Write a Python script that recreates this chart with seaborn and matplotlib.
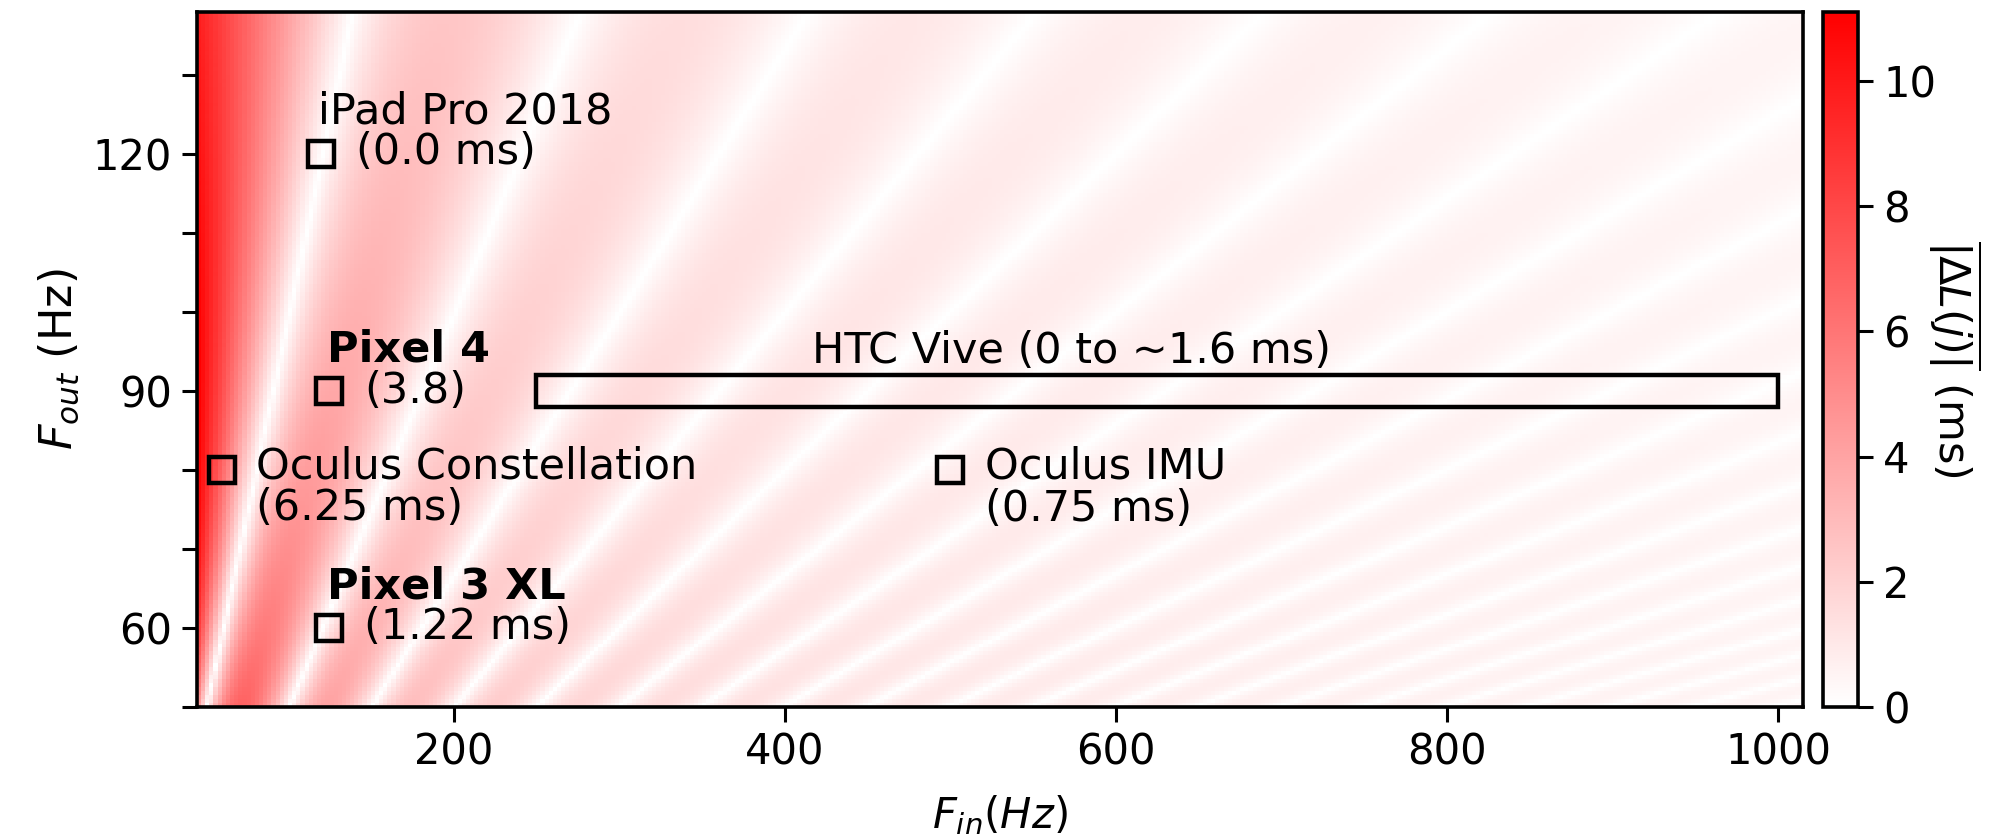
import numpy as np
import pandas as pd
import matplotlib
matplotlib.use("Agg")
import matplotlib.pyplot as plt
from matplotlib.patches import Rectangle
import seaborn as sns

# ---------------- data ----------------
# sampling grids (Hz)
f_in_hz = np.arange(45.0, 1015.0, 2.5)     # input (sensor) rate
f_out_hz = np.arange(50.0, 138.0, 0.5)     # output (display) rate
window_s = 1.0                              # averaging window (one second of output frames)

# device annotations
dev_names = ["iPad Pro 2018", "Pixel 4", "Oculus Constellation", "Oculus IMU", "Pixel 3 XL"]
dev_f_in = [120, 125, 60, 500, 125]
dev_f_out = [120, 90, 80, 80, 60]
dev_values = ["(0.0 ms)", "(3.8)", "(6.25 ms)", "(0.75 ms)", "(1.22 ms)"]
htc_f_in_range = [250, 1000]
htc_f_out = 90
htc_label = "HTC Vive (0 to ~1.6 ms)"

# mean |ΔL(j)|: latency L(j) = (j/F_out) mod (1/F_in), averaged over frames
fi2 = np.round(f_in_hz * 2).astype(np.int64)
fo2 = np.round(f_out_hz * 2).astype(np.int64)
rows = []
for fo_hz, fo in zip(f_out_hz, fo2):
    j = np.arange(int(fo_hz * window_s) + 1, dtype=np.int64)
    phase = (j[None, :] * fi2[:, None]) % fo          # integer exact
    lat_ms = phase / fo / (fi2[:, None] / 2.0) * 1000.0
    rows.append(np.abs(np.diff(lat_ms, axis=1)).mean(axis=1))
grid = np.array(rows)  # shape (n_out, n_in)
df = pd.DataFrame(grid[::-1], index=f_out_hz[::-1], columns=f_in_hz)

# ---------------- style ----------------
sns.set_theme(style="ticks", rc={
    "axes.edgecolor": "black", "axes.linewidth": 1.3,
    "xtick.color": "black", "ytick.color": "black",
    "text.color": "black", "axes.labelcolor": "black",
    "xtick.major.size": 5.5, "ytick.major.size": 5.5,
    "xtick.major.width": 1.1, "ytick.major.width": 1.1,
    "xtick.labelsize": 15, "ytick.labelsize": 15,
})
plt.rcParams["font.family"] = ["DejaVu Sans"]

cmap = sns.blend_palette(["#ffffff", "#ff0000"], as_cmap=True)

fig = plt.figure(figsize=(9.965, 4.2), dpi=200)
pos = [0.0988, 0.1587, 0.8059, 0.8274]
ax = fig.add_axes(pos)
cax = fig.add_axes([0.9147, 0.1587, 0.0176, 0.8274])

sns.heatmap(df, ax=ax, cmap=cmap, vmin=0, vmax=float(grid.max()),
            cbar_ax=cax, xticklabels=False, yticklabels=False,
            rasterized=True)
ax.set_xlabel("")
ax.set_ylabel("")
ax.tick_params(left=False, bottom=False)
for s in ax.spines.values():
    s.set_visible(False)

# overlay numeric axes aligned with the heatmap cells
ax2 = fig.add_axes(pos)
ax2.patch.set_alpha(0)
ax2.set_xlim(f_in_hz[0], f_in_hz[-1] + 2.5)
ax2.set_ylim(f_out_hz[0], f_out_hz[-1] + 0.5)
ax2.set_xticks([200, 400, 600, 800, 1000])
ax2.set_yticks(np.arange(50, 131, 10))
ax2.set_yticklabels([str(v) if v in (60, 90, 120) else "" for v in np.arange(50, 131, 10)])
for s in ax2.spines.values():
    s.set_visible(True)
    s.set_linewidth(1.3)
ax2.set_xlabel(r"$F_{in} (Hz)$", fontsize=15, labelpad=7)
ax2.set_ylabel(r"$F_{out}$ (Hz)", fontsize=16)

fs = 15.5
# markers
ax2.plot(dev_f_in, dev_f_out, "s", ms=9.5, mfc="none", mec="black", mew=1.6)
ax2.add_patch(Rectangle((htc_f_in_range[0], htc_f_out - 2),
                        htc_f_in_range[1] - htc_f_in_range[0], 4,
                        fill=False, lw=1.6, ec="black"))

# texts
ax2.text(118, 125.3, dev_names[0], fontsize=fs, va="center")
ax2.text(141, 120.2, dev_values[0], fontsize=fs, va="center")
ax2.text(123.5, 95.2, dev_names[1], fontsize=fs, va="center", fontweight="bold")
ax2.text(146, 90, dev_values[1], fontsize=fs, va="center")
ax2.text(80.5, 80.4, dev_names[2], fontsize=fs, va="center")
ax2.text(80.5, 75.2, dev_values[2], fontsize=fs, va="center")
ax2.text(521, 80.4, dev_names[3], fontsize=fs, va="center")
ax2.text(521, 75.0, dev_values[3], fontsize=fs, va="center")
ax2.text(123.5, 65.2, dev_names[4], fontsize=fs, va="center", fontweight="bold")
ax2.text(146, 60.1, dev_values[4], fontsize=fs, va="center")
ax2.text(573, 95, htc_label, fontsize=fs, va="center", ha="center")

# colorbar
cbar = ax.collections[0].colorbar
cbar.outline.set_visible(True)
cbar.outline.set_linewidth(1.3)
cbar.outline.set_edgecolor("black")
cbar.set_ticks([0, 2, 4, 6, 8, 10])
cbar.ax.tick_params(labelsize=15, length=5.5, width=1.1, color="black")
cbar.set_label(r"$\overline{|\Delta L(j)|}$ (ms)", rotation=270, fontsize=15.5, labelpad=17)

fig.savefig("out.png", dpi=200)
